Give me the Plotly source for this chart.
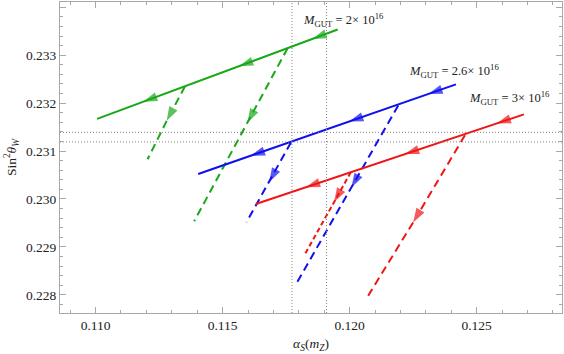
import plotly.graph_objects as go

# reference values (dotted cross-hairs)
alpha_ref = [0.11773, 0.11909]
sin2_ref = [0.23139, 0.23119]

# each flow line: points in the direction of the arrows (start -> arrows -> end)
green_solid_x = [0.11953, 0.11854, 0.11565, 0.11187, 0.11006]
green_solid_y = [0.233535, 0.23334, 0.23277, 0.23203, 0.23167]
green_dash1_x = [0.11352, 0.11280, 0.11181]
green_dash1_y = [0.23235, 0.23163, 0.230575]
green_dash2_x = [0.11756, 0.11598, 0.11388]
green_dash2_y = [0.233147, 0.23159, 0.229533]

blue_solid_x = [0.124185, 0.12310, 0.11998, 0.11611, 0.11404]
blue_solid_y = [0.23239, 0.23219, 0.231615, 0.230902, 0.23052]
blue_dash1_x = [0.11769, 0.116835, 0.11594]
blue_dash1_y = [0.23118, 0.230356, 0.229513]
blue_dash2_x = [0.121913, 0.12007, 0.117913]
blue_dash2_y = [0.23195, 0.23024, 0.228242]

red_solid_x = [0.12686, 0.12579, 0.12218, 0.11828, 0.11631]
red_solid_y = [0.231765, 0.231575, 0.230936, 0.230245, 0.229896]
red_dash1_x = [0.12005, 0.11939, 0.11821]
red_dash1_y = [0.23056, 0.229935, 0.228819]
red_dash2_x = [0.12454, 0.12250, 0.12039]
red_dash2_y = [0.23133, 0.22951, 0.227687]

labels = ["<i>M</i><sub>GUT</sub> = 2× 10<sup>16</sup>",
          "<i>M</i><sub>GUT</sub> = 2.6× 10<sup>16</sup>",
          "<i>M</i><sub>GUT</sub> = 3× 10<sup>16</sup>"]
label_x = [0.11808, 0.12224, 0.12461]
label_y = [0.23373, 0.23268, 0.23210]

SERIF = "Liberation Serif, Times New Roman, serif"
GREEN = "#18a818"
BLUE = "#1010ee"
RED = "#f01414"
FRAME = "#a8a8a8"

curves = [
    (green_solid_x, green_solid_y, GREEN, "solid"),
    (green_dash1_x, green_dash1_y, GREEN, "8px,5px"),
    (green_dash2_x, green_dash2_y, GREEN, "8px,5px"),
    (blue_solid_x, blue_solid_y, BLUE, "solid"),
    (blue_dash1_x, blue_dash1_y, BLUE, "8px,5px"),
    (blue_dash2_x, blue_dash2_y, BLUE, "8px,5px"),
    (red_solid_x, red_solid_y, RED, "solid"),
    (red_dash1_x, red_dash1_y, RED, "5px,3px"),
    (red_dash2_x, red_dash2_y, RED, "8px,5px"),
]

fig = go.Figure()

for xs, ys, color, dash in curves:
    # no arrowhead on the two end points
    sizes = [0] + [15] * (len(xs) - 2) + [0]
    fig.add_trace(go.Scatter(
        x=xs, y=ys, mode="lines+markers",
        line=dict(color=color, width=2, dash=dash),
        marker=dict(symbol="arrow", size=sizes, color=color,
                    angleref="previous", line=dict(width=0)),
        showlegend=False, hoverinfo="skip",
    ))

for v in alpha_ref:
    fig.add_vline(x=v, line=dict(color="#808080", width=1, dash="1px,2px"))
for v in sin2_ref:
    fig.add_hline(y=v, line=dict(color="#808080", width=1, dash="1px,2px"))

for text, x, y in zip(labels, label_x, label_y):
    fig.add_annotation(x=x, y=y, text=text, showarrow=False, xanchor="left",
                       yanchor="middle",
                       font=dict(family=SERIF, size=12.5, color="#222222"))

axis_style = dict(
    showgrid=False, zeroline=False, showline=True, linecolor=FRAME,
    mirror="ticks", ticks="inside", ticklen=6, tickcolor=FRAME,
    tickfont=dict(family=SERIF, size=13.5, color="#222222"),
)

fig.update_xaxes(range=[0.1086, 0.12836], dtick=0.005, tick0=0.110,
                 tickformat=".3f",
                 minor=dict(ticks="inside", dtick=0.001, ticklen=3,
                            tickcolor=FRAME),
                 title=dict(text="<i>α</i><sub><i>S</i></sub>(<i>m</i><sub><i>Z</i></sub>)",
                            font=dict(family=SERIF, size=13.5, color="#222222"),
                            standoff=6),
                 **axis_style)
fig.update_yaxes(range=[0.22762, 0.23411], dtick=0.001, tick0=0.228,
                 tickformat=".3f",
                 minor=dict(ticks="inside", dtick=0.0002, ticklen=3,
                            tickcolor=FRAME),
                 title=dict(text="Sin<sup>2</sup><i>θ</i><sub><i>W</i></sub>",
                            font=dict(family=SERIF, size=13.5, color="#222222"),
                            standoff=6),
                 **axis_style)

fig.update_layout(
    width=564, height=354,
    margin=dict(l=60, r=2, t=2, b=41),
    plot_bgcolor="white", paper_bgcolor="white",
    font=dict(family=SERIF, color="#222222"),
)

# the page's default body margin would shift the chart by 8px
fig.write_html("out.html", config={"displayModeBar": False},
               post_script="document.body.style.margin='0px';")
